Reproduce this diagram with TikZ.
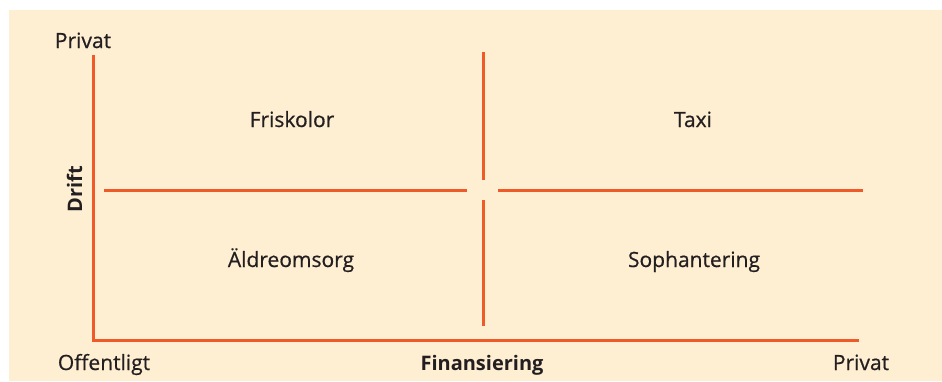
\documentclass[tikz,border=0pt]{standalone}
\usepackage{fontspec}
\setmainfont{Open Sans}
\newfontfamily\labelfont{Open Sans}[FakeBold=0.6]
\definecolor{panel}{HTML}{FEEED2}
\definecolor{axisorange}{HTML}{F05A28}
\definecolor{labeltext}{HTML}{231F20}
\begin{document}
\begin{tikzpicture}[x=1pt,y=-1pt,
  axisline/.style={draw=axisorange,line width=3pt},
  quadlabel/.style={font=\labelfont\fontsize{21}{24}\selectfont,text=labeltext,inner sep=0pt,anchor=base},
  axislabel/.style={font=\labelfont\fontsize{21}{24}\selectfont,text=labeltext,inner sep=0pt,anchor=base},
  axistitle/.style={font=\fontsize{20}{24}\selectfont\bfseries,text=labeltext,inner sep=0pt,anchor=base}]
  \useasboundingbox (0,0) rectangle (942,381);
  \fill[panel] (9,10) rectangle (942,381);

  % axis corners and cross ends
  \coordinate (ytop) at (93,55);
  \coordinate (origin) at (93,340);
  \coordinate (xend) at (859,340);
  \coordinate (vtop) at (483,52);
  \coordinate (vgapA) at (483,180);
  \coordinate (vgapB) at (483,200);
  \coordinate (vbot) at (483,326);
  \coordinate (hleft) at (104,190);
  \coordinate (hgapA) at (467,190);
  \coordinate (hgapB) at (498,190);
  \coordinate (hright) at (863,190);

  % axes
  \draw[axisline,line join=miter] (ytop) -- (origin) -- (xend);
  % dividing cross with a gap in the centre
  \draw[axisline] (vtop) -- (vgapA);
  \draw[axisline] (vgapB) -- (vbot);
  \draw[axisline] (hleft) -- (hgapA);
  \draw[axisline] (hgapB) -- (hright);

  % axis labels
  \node[axislabel] (ypriv) at (83,48) {Privat};
  \node[axislabel] (xoff) at (104,370) {Offentligt};
  \node[axistitle] (xtitle) at (482,370) {Finansiering};
  \node[axislabel] (xpriv) at (861,370) {Privat};
  \node[axistitle,rotate=90] (ytitle) at (82,189) {Drift};

  % quadrant labels
  \node[quadlabel] (q1) at (292,127) {Friskolor};
  \node[quadlabel] (q2) at (693,127) {Taxi};
  \node[quadlabel] (q3) at (291,267) {Äldreomsorg};
  \node[quadlabel] (q4) at (694,267) {Sophantering};
\end{tikzpicture}
\end{document}
